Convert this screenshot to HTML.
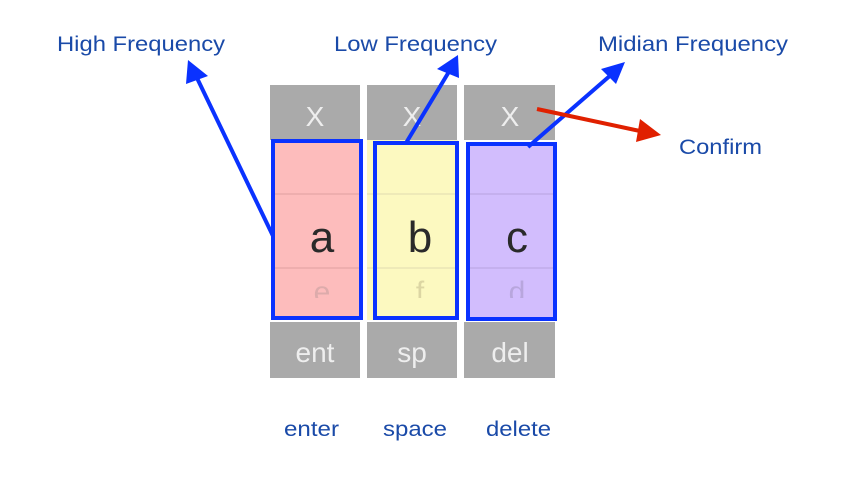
<!DOCTYPE html>
<html><head><meta charset="utf-8"><style>
html,body{margin:0;padding:0;background:#fff;}
svg{display:block;font-family:"Liberation Sans",Arial,sans-serif;}
</style></head><body>
<svg width="856" height="484" viewBox="0 0 856 484">
<defs><clipPath id="cut"><rect x="0" y="270" width="856" height="28"/></clipPath></defs>
<g>
<rect x="270" y="85" width="90" height="55" fill="#aaaaaa"/>
<rect x="270" y="322" width="90" height="56" fill="#aaaaaa"/>
<text x="315" y="126" font-size="28" fill="#eeeeee" text-anchor="middle">X</text>
<text x="315" y="362" font-size="28" fill="#eeeeee" text-anchor="middle">ent</text>
</g>
<g>
<rect x="367" y="85" width="90" height="55" fill="#aaaaaa"/>
<rect x="367" y="322" width="90" height="56" fill="#aaaaaa"/>
<text x="412" y="126" font-size="28" fill="#eeeeee" text-anchor="middle">X</text>
<text x="412" y="362" font-size="28" fill="#eeeeee" text-anchor="middle">sp</text>
</g>
<g>
<rect x="464" y="85" width="91" height="55" fill="#aaaaaa"/>
<rect x="464" y="322" width="91" height="56" fill="#aaaaaa"/>
<text x="510" y="126" font-size="28" fill="#eeeeee" text-anchor="middle">X</text>
<text x="510" y="362" font-size="28" fill="#eeeeee" text-anchor="middle">del</text>
</g>
<g>
<rect x="272" y="140" width="90" height="179" fill="#fdbcbc"/>
<line x1="272" y1="194" x2="362" y2="194" stroke="#e0a0a0" stroke-width="1"/>
<line x1="272" y1="268" x2="362" y2="268" stroke="#e0a0a0" stroke-width="1"/>
<text x="322" y="252" font-size="44" fill="#2a2a2a" text-anchor="middle">a</text>
<text x="322" y="302" font-size="30" fill="#c8a0a0" text-anchor="middle" opacity="0.6" clip-path="url(#cut)">e</text>
<rect x="273" y="141" width="88" height="177" fill="none" stroke="#0a32ff" stroke-width="4"/>
</g>
<g>
<rect x="367" y="140" width="91" height="180" fill="#fcf9c0"/>
<line x1="367" y1="194" x2="458" y2="194" stroke="#e0dcb0" stroke-width="1"/>
<line x1="367" y1="268" x2="458" y2="268" stroke="#e0dcb0" stroke-width="1"/>
<text x="420" y="252" font-size="44" fill="#2a2a2a" text-anchor="middle">b</text>
<text x="420" y="302" font-size="30" fill="#c8c090" text-anchor="middle" opacity="0.6" clip-path="url(#cut)">f</text>
<rect x="375" y="143" width="82" height="175" fill="none" stroke="#0a32ff" stroke-width="4"/>
</g>
<g>
<rect x="466" y="142" width="91" height="179" fill="#d2bdfd"/>
<line x1="466" y1="194" x2="557" y2="194" stroke="#b8a4e0" stroke-width="1"/>
<line x1="466" y1="268" x2="557" y2="268" stroke="#b8a4e0" stroke-width="1"/>
<text x="517" y="252" font-size="44" fill="#2a2a2a" text-anchor="middle">c</text>
<text x="517" y="302" font-size="30" fill="#a898c8" text-anchor="middle" opacity="0.6" clip-path="url(#cut)">d</text>
<rect x="468" y="144" width="87" height="175" fill="none" stroke="#0a32ff" stroke-width="4"/>
</g>
<g>
<line x1="273" y1="236" x2="197" y2="78" stroke="#0a32ff" stroke-width="4"/>
<polygon points="188,60 208,76 186,84" fill="#0a32ff"/>
</g>
<g>
<line x1="406" y1="143" x2="450" y2="70" stroke="#0a32ff" stroke-width="4"/>
<polygon points="458,55 459,78 437,69" fill="#0a32ff"/>
</g>
<g>
<line x1="528" y1="147" x2="612" y2="74" stroke="#0a32ff" stroke-width="4"/>
<polygon points="625,62 616,84 601,69" fill="#0a32ff"/>
</g>
<g>
<line x1="537" y1="109" x2="640" y2="131" stroke="#e02000" stroke-width="4"/>
<polygon points="661,135 636,142 640,119" fill="#e02000"/>
</g>
<g font-size="21" fill="#1a4aa8">
<text x="57" y="51" textLength="168" lengthAdjust="spacingAndGlyphs">High Frequency</text>
<text x="334" y="51" textLength="163" lengthAdjust="spacingAndGlyphs">Low Frequency</text>
<text x="598" y="51" textLength="190" lengthAdjust="spacingAndGlyphs">Midian Frequency</text>
<text x="679" y="154" textLength="83" lengthAdjust="spacingAndGlyphs">Confirm</text>
<text x="284" y="436" textLength="55" lengthAdjust="spacingAndGlyphs">enter</text>
<text x="383" y="436" textLength="64" lengthAdjust="spacingAndGlyphs">space</text>
<text x="486" y="436" textLength="65" lengthAdjust="spacingAndGlyphs">delete</text>
</g>
</svg>
</body></html>
